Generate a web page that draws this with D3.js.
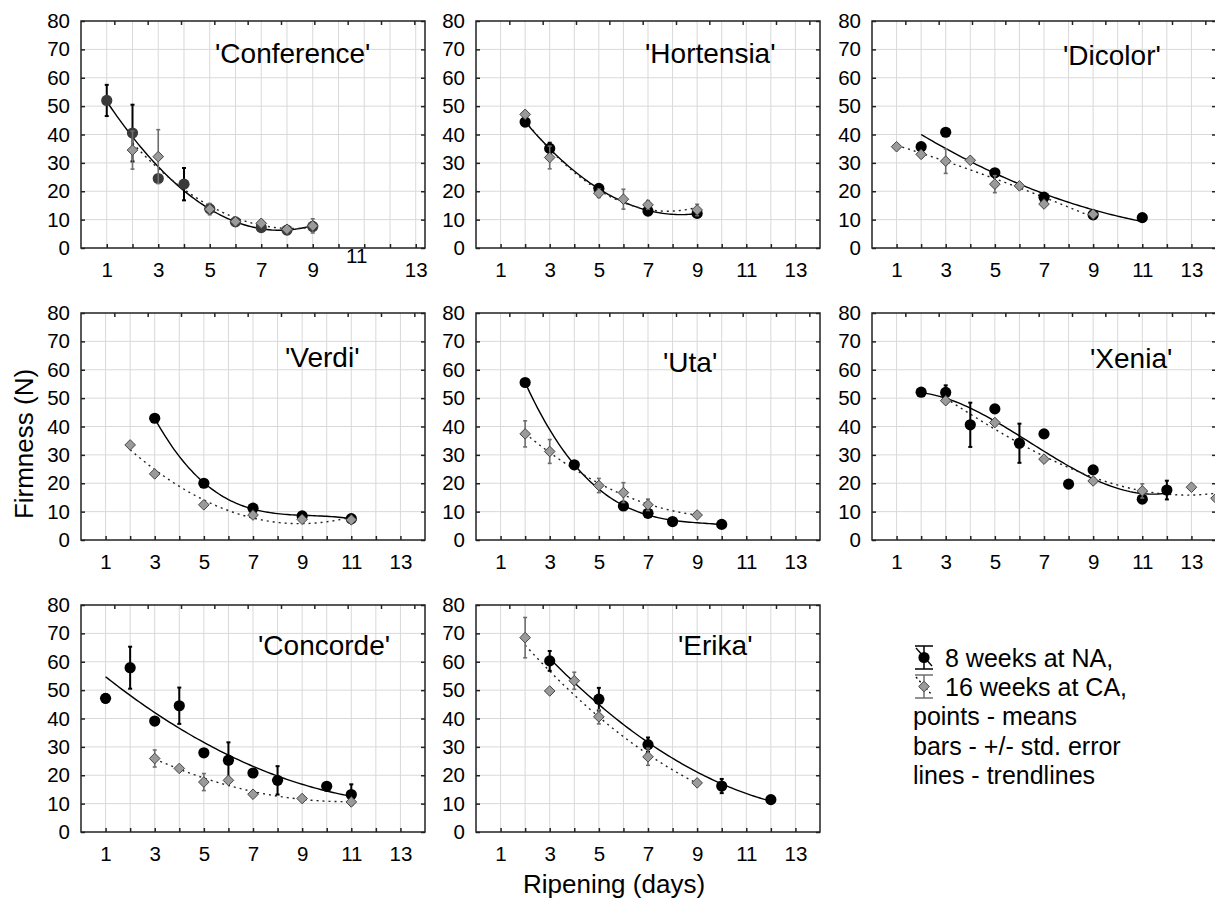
<!DOCTYPE html>
<html lang="en">
<head>
<meta charset="UTF-8" />
<title>Firmness during ripening</title>
<script src="https://d3js.org/d3.v7.min.js"></script>
<style>
  body { margin: 0; background: #fff; }
  svg { display: block; font-family: "Liberation Sans", Arial, sans-serif; }
  .grid line { stroke: #d9d9d9; stroke-width: 1; }
  .tick text { fill: #000; }
</style>
</head>
<body>
<svg id="chart" width="1215" height="907"></svg>
<script>
const cultivars = ["'Conference'", "'Hortensia'", "'Dicolor'", "'Verdi'", "'Uta'", "'Xenia'", "'Concorde'", "'Erika'"];

// 8 weeks at NA
const naDays = [
  [1, 2, 3, 4, 5, 6, 7, 8, 9],
  [2, 3, 5, 7, 9],
  [2, 3, 5, 7, 9, 11],
  [3, 5, 7, 9, 11],
  [2, 4, 6, 7, 8, 10],
  [2, 3, 4, 5, 6, 7, 8, 9, 11, 12],
  [1, 2, 3, 4, 5, 6, 7, 8, 10, 11],
  [3, 5, 7, 10, 12]
];
const naFirmness = [
  [52, 40.5, 24.5, 22.5, 13.8, 9.2, 7.2, 6.3, 7.6],
  [44.4, 35.1, 21.0, 13.0, 12.2],
  [35.7, 40.8, 26.5, 17.9, 11.7, 10.7],
  [42.9, 20.0, 11.2, 8.5, 7.5],
  [55.5, 26.5, 12.0, 9.4, 6.5, 5.5],
  [52.1, 52.0, 40.6, 46.2, 34.1, 37.4, 19.7, 24.7, 14.4, 17.6],
  [47.1, 57.9, 39.1, 44.5, 27.9, 25.3, 20.8, 18.2, 16.1, 13.2],
  [60.3, 46.8, 30.8, 16.2, 11.4]
];
const naError = [
  [5.5, 10, 1, 5.7, 1, 0.8, 0.8, 0.8, 1.5],
  [1.5, 2, 1, 1, 1],
  [0, 0, 0, 0, 0, 0],
  [0, 0, 0, 0, 0],
  [0, 0, 0, 0, 0, 0],
  [0, 2.5, 7.8, 0, 6.9, 0, 0, 1, 0, 3.3],
  [1.5, 7.4, 0, 6.4, 0, 6.3, 0, 5, 0, 3.6],
  [3.5, 4, 2.5, 2.5, 0]
];

// 16 weeks at CA
const caDays = [
  [2, 3, 5, 6, 7, 8, 9],
  [2, 3, 5, 6, 7, 9],
  [1, 2, 3, 4, 5, 6, 7, 9],
  [2, 3, 5, 7, 9, 11],
  [2, 3, 5, 6, 7, 9],
  [3, 5, 7, 9, 11, 13, 14],
  [3, 4, 5, 6, 7, 9, 11],
  [2, 3, 4, 5, 7, 9]
];
const caFirmness = [
  [34.5, 32.2, 13.7, 9.3, 8.7, 6.6, 7.8],
  [47.1, 31.9, 19.3, 17.2, 15.2, 13.4],
  [35.7, 33.0, 30.6, 30.9, 22.5, 21.9, 15.5, 11.9],
  [33.5, 23.3, 12.4, 8.8, 7.3, 7.1],
  [37.4, 31.2, 19.2, 16.7, 12.4, 8.8],
  [49.1, 41.4, 28.5, 20.8, 17.3, 18.6, 14.7],
  [25.9, 22.4, 17.6, 18.2, 13.3, 11.8, 10.6],
  [68.5, 49.7, 53.3, 40.6, 26.5, 17.3]
];
const caError = [
  [6.7, 9.5, 2, 1, 1, 1, 2.5],
  [1, 4, 1.5, 3.5, 1.5, 2],
  [0, 1, 4.3, 0, 3, 0, 1, 0],
  [0, 0, 0, 0, 0, 0],
  [4.6, 4.2, 2.5, 3.5, 2, 0.5],
  [1, 1, 0, 0, 2.5, 0, 0],
  [3, 0, 3, 0, 0, 0, 0],
  [7.1, 0, 3, 2.5, 3, 0]
];

// polynomial order of each trendline
const naTrendDegree = [2, 2, 2, 3, 3, 3, 2, 2];
const caTrendDegree = [2, 2, 2, 2, 2, 3, 2, 2];

const dayTicks = [1, 3, 5, 7, 9, 11, 13];
const firmnessTicks = [0, 10, 20, 30, 40, 50, 60, 70, 80];
const legendLines = ["8 weeks at NA,", "16 weeks at CA,", "points - means", "bars - +/- std. error", "lines - trendlines"];

// layout
const colX = [81, 476, 872];
const rowY = [21, 313, 605];
const pw = 344, ph = 227;
const dayMax = [13.36, 14, 14, 14, 14, 14, 14, 14];
const titlePos = [[134, 42], [169, 42], [191, 44], [204, 54], [187, 59], [218, 55], [177, 50], [202, 50]];

const svg = d3.select("#chart");

function polyFit(xs, ys, deg) {
  const n = deg + 1;
  const A = d3.range(n).map(() => new Array(n + 1).fill(0));
  xs.forEach((x, k) => {
    for (let i = 0; i < n; i++) {
      for (let j = 0; j < n; j++) A[i][j] += Math.pow(x, i + j);
      A[i][n] += Math.pow(x, i) * ys[k];
    }
  });
  for (let i = 0; i < n; i++) {
    let p = i;
    for (let r = i + 1; r < n; r++) if (Math.abs(A[r][i]) > Math.abs(A[p][i])) p = r;
    [A[i], A[p]] = [A[p], A[i]];
    for (let r = 0; r < n; r++) {
      if (r === i) continue;
      const f = A[r][i] / A[i][i];
      for (let c = i; c <= n; c++) A[r][c] -= f * A[i][c];
    }
  }
  const coef = A.map((row, i) => row[n] / row[i]);
  return (x) => coef.reduce((s, c, i) => s + c * Math.pow(x, i), 0);
}

const diamond = d3.symbol().type(d3.symbolDiamond2).size(72);

cultivars.forEach((name, p) => {
  const g = svg.append("g").attr("transform", `translate(${colX[p % 3]},${rowY[Math.floor(p / 3)]})`);
  const x = d3.scaleLinear().domain([0, dayMax[p]]).range([0, pw]);
  const y = d3.scaleLinear().domain([0, 80]).range([ph, 0]);

  // grid
  const grid = g.append("g").attr("class", "grid");
  grid.selectAll(".gx").data(d3.range(1, Math.floor(dayMax[p] - 0.01) + 1)).join("line")
    .attr("x1", (d) => x(d)).attr("x2", (d) => x(d)).attr("y1", 0).attr("y2", ph);
  grid.selectAll(".gy").data(firmnessTicks.slice(1, -1)).join("line")
    .attr("x1", 0).attr("x2", pw).attr("y1", (d) => y(d)).attr("y2", (d) => y(d));

  // axes
  const xAxis = g.append("g").attr("transform", `translate(0,${ph})`)
    .call(d3.axisBottom(x).tickValues(d3.range(1, Math.floor(dayMax[p] - 0.01) + 1)).tickSize(-4).tickPadding(14)
      .tickFormat((d) => (dayTicks.includes(d) ? d : "")));
  const yAxis = g.append("g")
    .call(d3.axisLeft(y).tickValues(firmnessTicks).tickSize(-4).tickPadding(11));
  g.append("g").attr("transform", `translate(${pw},0)`)
    .call(d3.axisRight(y).tickValues(firmnessTicks).tickSize(-4).tickFormat(""));
  g.append("g")
    .call(d3.axisTop(d3.scaleLinear().domain([0, 10.32]).range([0, pw])).tickValues(d3.range(1, 11)).tickSize(-4).tickFormat(""));
  g.selectAll(".domain").remove();
  g.selectAll(".tick line").attr("stroke", "#222").attr("stroke-width", 1.5);
  g.selectAll(".tick text").attr("font-size", 20.5).attr("font-family", "Liberation Sans, Arial, sans-serif");
  // odd "11" label in first panel
  if (p === 0) {
    xAxis.selectAll(".tick").filter((d) => d === 11).select("text").attr("transform", "translate(-8,-14)");
  }

  g.append("rect").attr("width", pw).attr("height", ph)
    .attr("fill", "none").attr("stroke", "#222").attr("stroke-width", 1.5);

  g.append("text").attr("x", titlePos[p][0]).attr("y", titlePos[p][1])
    .attr("font-size", 28).text(name);

  const line = d3.line().x((d) => x(d[0])).y((d) => y(d[1]));

  // trendlines
  [[naDays, naFirmness, naTrendDegree, null], [caDays, caFirmness, caTrendDegree, "2,4"]].forEach(([dd, ff, deg, dash]) => {
    const f = polyFit(dd[p], ff[p], deg[p]);
    const [lo, hi] = d3.extent(dd[p]);
    const pts = d3.range(0, 81).map((i) => lo + ((hi - lo) * i) / 80).map((t) => [t, f(t)]);
    g.append("path").attr("d", line(pts)).attr("fill", "none")
      .attr("stroke", dash ? "#222" : "#000").attr("stroke-width", 1.4)
      .attr("stroke-dasharray", dash);
  });

  // NA error bars + circles
  const na = naDays[p].map((d, i) => ({ d, v: naFirmness[p][i], e: naError[p][i] }));
  const ca = caDays[p].map((d, i) => ({ d, v: caFirmness[p][i], e: caError[p][i] }));

  const bars = (data, color, w) => {
    const eb = g.append("g").attr("stroke", color).attr("stroke-width", w);
    data.filter((o) => o.e > 0).forEach((o) => {
      eb.append("line").attr("x1", x(o.d)).attr("x2", x(o.d)).attr("y1", y(o.v + o.e)).attr("y2", y(o.v - o.e));
      eb.append("line").attr("x1", x(o.d) - 2).attr("x2", x(o.d) + 2).attr("y1", y(o.v + o.e)).attr("y2", y(o.v + o.e));
      eb.append("line").attr("x1", x(o.d) - 2).attr("x2", x(o.d) + 2).attr("y1", y(o.v - o.e)).attr("y2", y(o.v - o.e));
    });
  };
  bars(na, "#000", 2);
  g.selectAll(".na").data(na).join("circle").attr("class", "na")
    .attr("cx", (o) => x(o.d)).attr("cy", (o) => y(o.v)).attr("r", 5.6)
    .attr("fill", p === 0 ? "#3a3a3a" : "#000");
  bars(ca, "#6e6e6e", 1.6);
  g.selectAll(".ca").data(ca).join("path").attr("class", "ca")
    .attr("transform", (o) => `translate(${x(o.d)},${y(o.v)})`)
    .attr("d", diamond).attr("fill", "#9a9a9a").attr("stroke", "#444").attr("stroke-width", 1);
});

// axis titles
svg.append("text").attr("transform", "translate(33,444) rotate(-90)")
  .attr("text-anchor", "middle").attr("font-size", 26).text("Firmness (N)");
svg.append("text").attr("x", 614).attr("y", 893)
  .attr("text-anchor", "middle").attr("font-size", 26).text("Ripening (days)");

// legend
const legendBase = [667, 696, 725, 755, 784];
const lg = svg.append("g");
legendLines.forEach((t, i) => {
  lg.append("text").attr("x", i < 2 ? 945 : 913).attr("y", legendBase[i]).attr("font-size", 25).text(t);
});
[0, 1].forEach((i) => {
  const top = legendBase[i] - 21, bot = legendBase[i] + 2, cx = 924, cy = (top + bot) / 2;
  const s = lg.append("g").attr("stroke", i ? "#6e6e6e" : "#000").attr("stroke-width", 1.5);
  s.append("line").attr("x1", 915).attr("x2", 933).attr("y1", top).attr("y2", top);
  s.append("line").attr("x1", 915).attr("x2", 933).attr("y1", bot).attr("y2", bot);
  s.append("line").attr("x1", cx).attr("x2", cx).attr("y1", top).attr("y2", bot);
  lg.append("line").attr("x1", 916).attr("y1", top + 2).attr("x2", 932).attr("y2", bot - 3)
    .attr("stroke", "#000").attr("stroke-width", 1.3).attr("stroke-dasharray", i ? "2,3" : null);
  if (i === 0) {
    lg.append("circle").attr("cx", cx).attr("cy", cy).attr("r", 5.6).attr("fill", "#000");
  } else {
    lg.append("path").attr("transform", `translate(${cx},${cy})`).attr("d", diamond)
      .attr("fill", "#9a9a9a").attr("stroke", "#444");
  }
});
</script>
</body>
</html>
